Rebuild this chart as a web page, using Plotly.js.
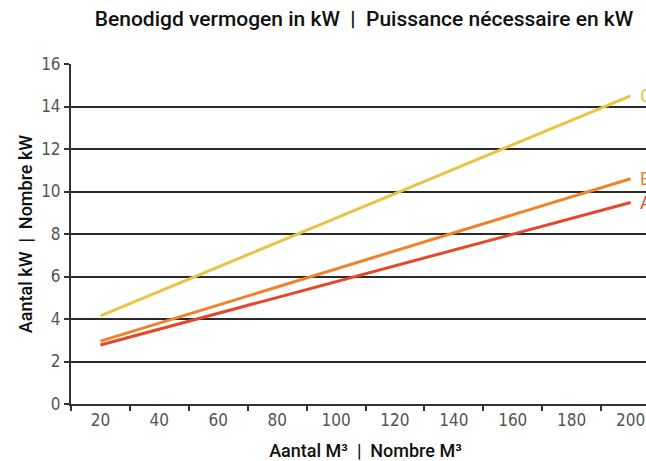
<!DOCTYPE html>
<html>
<head>
<meta charset="utf-8">
<script src="https://cdn.plot.ly/plotly-3.0.1.min.js"></script>
<style>
html, body { margin: 0; padding: 0; overflow: hidden; background: #fff; }
#chart { width: 700px; height: 461px; }
</style>
</head>
<body>
<div id="chart"></div>
<script>
// Data
const volumes = [20, 200];               // Aantal M³ | Nombre M³
const seriesA = [2.78, 9.48];            // kW
const seriesB = [2.96, 10.6];            // kW
const seriesC = [4.15, 14.5];            // kW
const seriesNames = ['A', 'B', 'C'];
const seriesColors = ['#E5472A', '#F0832A', '#E8C444'];
const xTickLabels = [20, 40, 60, 80, 100, 120, 140, 160, 180, 200];
const xBoundaryTicks = [10, 30, 50, 70, 90, 110, 130, 150, 170, 190];
const yTicks = [0, 2, 4, 6, 8, 10, 12, 14, 16];

const allSeries = [seriesA, seriesB, seriesC];

const traces = allSeries.map((vals, i) => ({
  x: volumes,
  y: vals,
  type: 'scatter',
  mode: 'lines',
  name: seriesNames[i],
  line: { color: seriesColors[i], width: 3 },
  hoverinfo: 'skip'
}));

const annotations = allSeries.map((vals, i) => ({
  x: volumes[volumes.length - 1],
  y: vals[vals.length - 1],
  xref: 'x', yref: 'y',
  text: seriesNames[i],
  showarrow: false,
  xanchor: 'left',
  yanchor: 'middle',
  xshift: 7,
  font: { family: 'Roboto, sans-serif', size: 18, color: seriesColors[i] }
}));

const tickFont = { family: '"Liberation Sans Narrow", "DejaVu Sans Condensed", sans-serif', size: 17, color: '#555' };

const layout = {
  width: 700,
  height: 461,
  margin: { l: 71, r: 40, t: 64, b: 57 },
  paper_bgcolor: '#fff',
  plot_bgcolor: '#fff',
  showlegend: false,
  title: {
    text: 'Benodigd vermogen in kW  |  Puissance nécessaire en kW',
    font: { family: 'Roboto, sans-serif', size: 21, color: '#111', weight: 500 },
    x: 0.52, xanchor: 'center',
    y: 1, yref: 'container', yanchor: 'top', pad: { t: 11 }
  },
  xaxis: {
    range: [10, 210],
    tickmode: 'array',
    tickvals: xTickLabels,
    ticktext: xTickLabels.map(String),
    ticks: '',
    tickfont: tickFont,
    showgrid: false,
    zeroline: false,
    showline: true,
    linecolor: '#333',
    linewidth: 2,
    minor: {
      tickmode: 'array',
      tickvals: xBoundaryTicks,
      ticks: 'outside',
      ticklen: 5,
      tickwidth: 2,
      tickcolor: '#333',
      showgrid: false
    },
    title: {
      text: 'Aantal M³  |  Nombre M³',
      font: { family: 'Roboto, sans-serif', size: 18, color: '#111', weight: 500 },
      standoff: 17
    },
    fixedrange: true
  },
  yaxis: {
    range: [0, 16],
    tickmode: 'array',
    tickvals: yTicks,
    ticks: 'outside',
    ticklen: 5,
    tickwidth: 2,
    tickcolor: '#333',
    tickfont: tickFont,
    showgrid: true,
    gridcolor: '#2a2a2a',
    gridwidth: 2,
    zeroline: false,
    showline: true,
    linecolor: '#333',
    linewidth: 2,
    title: {
      text: 'Aantal kW  |  Nombre kW',
      font: { family: 'Roboto, sans-serif', size: 18, color: '#111', weight: 500 },
      standoff: 4
    },
    fixedrange: true
  },
  annotations: annotations
};

Plotly.newPlot('chart', traces, layout, { displayModeBar: false, staticPlot: true });
</script>
</body>
</html>
